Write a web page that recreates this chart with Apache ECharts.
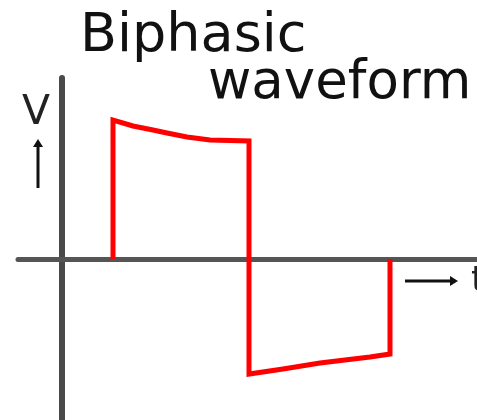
<!DOCTYPE html>
<html>
<head>
<meta charset="utf-8">
<style>
  html, body { margin: 0; padding: 0; background: #fff; }
  #chart { width: 477px; height: 420px; }
</style>
<script src="https://cdn.jsdelivr.net/npm/echarts@6/dist/echarts.min.js"></script>
</head>
<body>
<div id="chart"></div>
<script>
// waveform samples (arbitrary units: time, voltage)
var timeVals = [5.1, 5.1, 7.1, 9.1, 10.5, 12.5, 14.8, 18.7, 18.7, 22.1, 25.8, 30.8, 32.8, 32.8];
var voltVals = [0, 13.9, 13.3, 12.9, 12.6, 12.2, 11.9, 11.8, -11.5, -11.0, -10.4, -9.8, -9.5, 0];

var titleLines = ['Biphasic', 'waveform'];
var yName = 'V';
var xName = 't';

var chart = echarts.init(document.getElementById('chart'), null, { renderer: 'canvas' });

var pts = timeVals.map(function(t, i) { return [t, voltVals[i]]; });

var FONT = '"DejaVu Sans", "Liberation Sans", sans-serif';

chart.setOption({
  animation: false,
  backgroundColor: '#fff',
  grid: { left: 18, right: 0, top: 78, bottom: 0 },
  xAxis: {
    type: 'value', min: -4.4, max: 41.5,
    axisLine: { onZero: true, lineStyle: { color: '#555', width: 5 } },
    axisTick: { show: false }, axisLabel: { show: false }, splitLine: { show: false }
  },
  yAxis: {
    type: 'value', min: -16.1, max: 18.1,
    axisLine: { onZero: true, lineStyle: { color: '#4a4a4a', width: 6 } },
    axisTick: { show: false }, axisLabel: { show: false }, splitLine: { show: false }
  },
  series: [{
    type: 'line',
    data: pts,
    symbol: 'none',
    z: 5,
    lineStyle: { color: '#ff0000', width: 5, join: 'miter', cap: 'butt' }
  }],
  graphic: [
    { type: 'text', left: 80, top: 10,
      style: { text: titleLines[0], font: 'normal 54px ' + FONT, fill: '#111' } },
    { type: 'text', left: 208, top: 58,
      style: { text: titleLines[1], font: 'normal 53px ' + FONT, fill: '#111' } },
    { type: 'text', left: 22, top: 93,
      style: { text: yName, font: 'normal 41px ' + FONT, fill: '#222' } },
    { type: 'text', left: 471, top: 264,
      style: { text: xName, font: 'normal 36px ' + FONT, fill: '#222' } },
    // up arrow next to V
    { type: 'line', shape: { x1: 38, y1: 188, x2: 38, y2: 144 },
      style: { stroke: '#111', lineWidth: 3 } },
    { type: 'polygon', shape: { points: [[38, 139], [33, 147], [43, 147]] },
      style: { fill: '#111' } },
    // right arrow near t
    { type: 'line', shape: { x1: 405, y1: 281, x2: 452, y2: 281 },
      style: { stroke: '#111', lineWidth: 3 } },
    { type: 'polygon', shape: { points: [[458, 281], [450, 276], [450, 286]] },
      style: { fill: '#111' } }
  ]
});
</script>
</body>
</html>
